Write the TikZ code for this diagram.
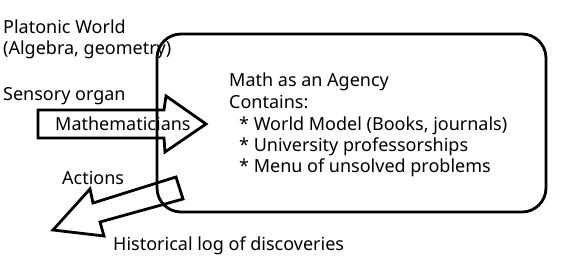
\documentclass[tikz,border=0pt]{standalone}
\usepackage{fontspec}
\setmainfont{Noto Sans}
\usepackage{tikz}
\definecolor{AGInk}{HTML}{000000}
\tikzset{
  lbl/.style={anchor=base west,inner sep=0pt,font=\fontsize{18}{22}\selectfont},
  blockarrow/.style={AGInk,line width=2.8pt,line join=miter},
}

\begin{document}
\begin{tikzpicture}[x=1pt,y=-1pt]
\path[use as bounding box] (0,0) rectangle (578,257);
\draw[AGInk,line width=2.8pt,rounded corners=24pt] (157,34) rectangle (546,212);
\node[lbl] (platonic) at (3,33) {Platonic World};
\node[lbl] (algebra) at (3,54) {(Algebra, geometry)};
\node[lbl] (sensory) at (3,100) {Sensory organ};
\draw[blockarrow] (38,110) -- (164,110) -- (166,96) -- (206,124) -- (165,152) -- (164,138) -- (38,138) -- cycle;
\node[lbl] (mathematicians) at (55,130) {Mathematicians};
\node[lbl] (agency) at (229,86) {Math as an Agency};
\node[lbl] (contains) at (229,108) {Contains:};
\node[lbl] (worldmodel) at (239,130) {* World Model (Books, journals)};
\node[lbl] (professors) at (239,151) {* University professorships};
\node[lbl] (unsolved) at (239,172) {* Menu of unsolved problems};
\node[lbl] (actions) at (62,184) {Actions};
\draw[blockarrow] (176,177) -- (93,203) -- (90,189) -- (53,230) -- (104,236) -- (100,222) -- (183,199) -- cycle;
\node[lbl] (histlog) at (113,250) {Historical log of discoveries};
\end{tikzpicture}
\end{document}
